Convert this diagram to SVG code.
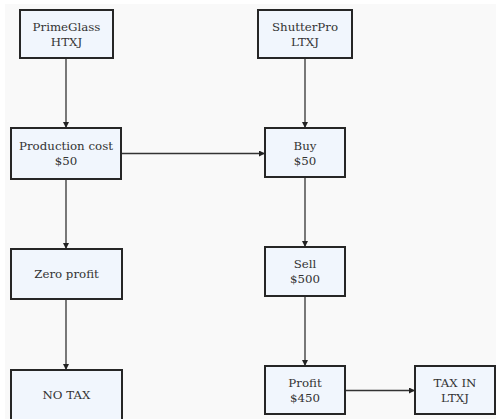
<svg xmlns="http://www.w3.org/2000/svg" width="496" height="419" viewBox="0 0 496 419">
<defs>
<style>
.box{fill:#f1f6fd;stroke:#262626;stroke-width:2}
.t{font-family:"DejaVu Serif",serif;font-size:11.8px;fill:#333;text-anchor:middle}
.c{stroke:#333;stroke-width:1.3;fill:none;marker-end:url(#ah)}
</style>
<marker id="ah" viewBox="0 0 10 10" refX="10" refY="5" markerWidth="6" markerHeight="6" markerUnits="userSpaceOnUse" orient="auto">
<path d="M0,0 L10,5 L0,10 z" fill="#222"/>
</marker>
</defs>
<rect x="0" y="0" width="496" height="419" fill="#fff"/>
<rect x="5" y="4" width="491" height="415" fill="#f9f9f9"/>
<g id="connectors">
<line class="c" x1="66" y1="58" x2="66" y2="128"/>
<line class="c" x1="66" y1="179" x2="66" y2="249"/>
<line class="c" x1="66" y1="299" x2="66" y2="370"/>
<line class="c" x1="305" y1="58" x2="305" y2="128"/>
<line class="c" x1="305" y1="177" x2="305" y2="247"/>
<line class="c" x1="305" y1="296" x2="305" y2="366"/>
<line class="c" x1="121" y1="153.5" x2="265" y2="153.5"/>
<line class="c" x1="345" y1="390.5" x2="415" y2="390.5"/>
</g>
<g id="primeglass"><rect class="box" x="20" y="10" width="93" height="48"/><text class="t" x="66.5" y="30.5">PrimeGlass</text><text class="t" x="66.5" y="45.5">HTXJ</text></g>
<g id="shutterpro"><rect class="box" x="258" y="10" width="94" height="48"/><text class="t" x="305" y="30.5">ShutterPro</text><text class="t" x="305" y="45.5">LTXJ</text></g>
<g id="production"><rect class="box" x="11" y="128" width="110" height="51"/><text class="t" x="66" y="150">Production cost</text><text class="t" x="66" y="165">$50</text></g>
<g id="buy"><rect class="box" x="265" y="128" width="80" height="49"/><text class="t" x="305" y="149.5">Buy</text><text class="t" x="305" y="164.5">$50</text></g>
<g id="zero"><rect class="box" x="11" y="249" width="111" height="50"/><text class="t" x="66.5" y="278">Zero profit</text></g>
<g id="sell"><rect class="box" x="265" y="247" width="80" height="49"/><text class="t" x="305" y="268">Sell</text><text class="t" x="305" y="283">$500</text></g>
<g id="notax"><rect class="box" x="11" y="370" width="111" height="52"/><text class="t" x="66.5" y="399">NO TAX</text></g>
<g id="profit"><rect class="box" x="265" y="366" width="80" height="48"/><text class="t" x="305" y="386.5">Profit</text><text class="t" x="305" y="401.5">$450</text></g>
<g id="taxin"><rect class="box" x="415" y="366" width="80" height="48"/><text class="t" x="455" y="386.5">TAX IN</text><text class="t" x="455" y="401.5">LTXJ</text></g>
</svg>
